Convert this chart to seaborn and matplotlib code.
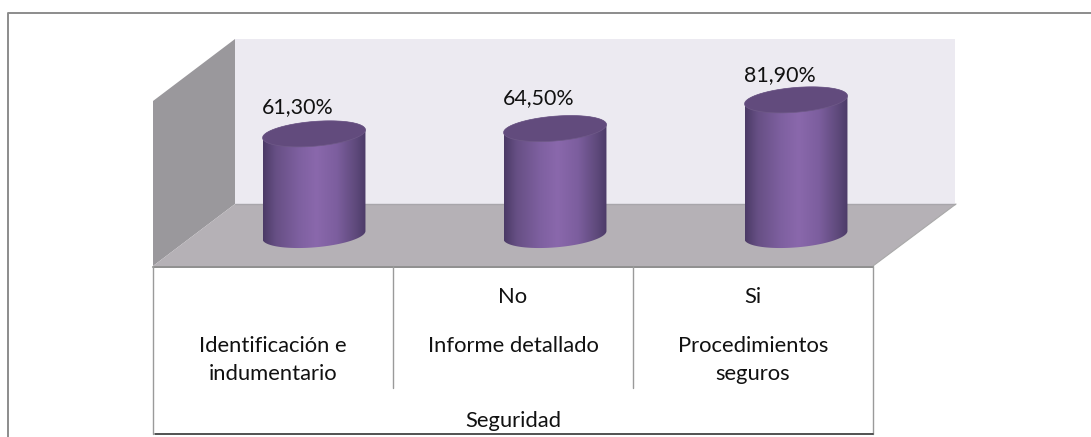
import numpy as np
import pandas as pd
import matplotlib
matplotlib.use("Agg")
import matplotlib.pyplot as plt
from matplotlib.patches import Polygon
from matplotlib.colors import LinearSegmentedColormap
import seaborn as sns

categories = ["Identificación e\nindumentario", "Informe detallado", "Procedimientos\nseguros"]
middle_labels = ["", "No", "Si"]
group_label = "Seguridad"
values = [61.30, 64.50, 81.90]
value_labels = ["61,30%", "64,50%", "81,90%"]

W, H = 1091, 437
sns.set_theme(style="white")
plt.rcParams['font.family'] = ['Lato', 'DejaVu Sans']
fig = plt.figure(figsize=(W / 100, H / 100), dpi=100, facecolor="white")

# Pixel-coordinate layer for the frame, the 3D box and the table under the chart
ov = fig.add_axes([0, 0, 1, 1], zorder=0)
ov.set_xlim(0, W); ov.set_ylim(H, 0); ov.axis("off")

border = "#8c8c8c"
ov.plot([8, 8, 1091], [437, 12.5, 12.5], color=border, lw=1.4, solid_capstyle="butt")
ov.add_patch(Polygon([(235, 39), (955, 39), (955, 204), (235, 204)], fc="#ecEAf1", ec="none"))
ov.add_patch(Polygon([(153, 101), (235, 39), (235, 204), (153, 266)], fc="#9a989c", ec="none"))
ov.add_patch(Polygon([(153, 266), (235, 204), (956, 204), (873, 266)], fc="#b5b1b6", ec="none"))
ov.plot([235, 955], [204, 204], color="#a8a6ab", lw=1)
ov.plot([153, 873], [266.5, 266.5], color="#8e8e8e", lw=1.4)
ov.plot([873, 956], [266, 204], color="#a9a9a9", lw=0.8)
for xl, yend in [(153, 434), (873, 434), (393, 388), (633, 388)]:
    ov.plot([xl, xl], [266, yend], color="#9a9a9a", lw=1)
ov.plot([155, 873], [433.5, 433.5], color="#222222", lw=1.1)

# Data axes: category positions and the value scale set where the bars stand
px_per_unit = 1.65
base_px = 235
left_px, right_px = 193.5, 916.5
top_val = 130
top_px = base_px - px_per_unit * top_val
ax = fig.add_axes([left_px / W, 1 - base_px / H, (right_px - left_px) / W, (base_px - top_px) / H], zorder=1)
ax.patch.set_alpha(0)
df = pd.DataFrame({"categoria": categories, "valor": values})
sns.barplot(data=df, x="categoria", y="valor", color="#7a5c9c", width=0.427, ax=ax)
ax.set_xlim(-0.5, 2.5); ax.set_ylim(0, top_val)
ax.axis("off")
fig.canvas.draw()

to_px = lambda x, y: (lambda p: (p[0], H - p[1]))(ax.transData.transform((x, y)))

cmap = LinearSegmentedColormap.from_list(
    "cyl",
    [(0.0, "#4b3a66"), (0.12, "#664f84"), (0.35, "#7e60a0"), (0.52, "#8a68ac"),
     (0.72, "#7c5e9e"), (0.9, "#5f4a7c"), (1.0, "#4c3b68")])
grad = np.linspace(0, 1, 256)[None, :]
b_ell, tilt = 12.4, 4.0
label_dy = [-27, -30, -25]

top_layer = fig.add_axes([0, 0, 1, 1], zorder=2)
top_layer.patch.set_alpha(0)
for bar, lab, dy in zip(ax.patches, value_labels, label_dy):
    xc = bar.get_x() + bar.get_width() / 2
    cx, base = to_px(xc, 0)
    _, top = to_px(xc, bar.get_height())
    x0, _ = to_px(bar.get_x(), 0)
    half_w = cx - x0
    bar.set_alpha(0)
    tb = np.linspace(np.pi, 0, 80)
    xb = cx + half_w * np.cos(tb)
    yb = base + b_ell * np.sin(tb) - tilt * np.cos(tb)
    tt = np.linspace(0, np.pi, 80)
    xt = cx + half_w * np.cos(tt)
    yt = top - b_ell * np.sin(tt) - tilt * np.cos(tt)
    body = Polygon(np.column_stack([np.r_[xb, xt], np.r_[yb, yt]]), closed=True,
                   fc="none", ec="none", transform=top_layer.transData)
    top_layer.add_patch(body)
    im = top_layer.imshow(grad, extent=[cx - half_w, cx + half_w, base + 30, top - 30],
                          cmap=cmap, aspect="auto", zorder=2)
    im.set_clip_path(body)
    t = np.linspace(0, 2 * np.pi, 160)
    top_layer.add_patch(Polygon(
        np.column_stack([cx + half_w * np.cos(t), top + b_ell * np.sin(t) - tilt * np.cos(t)]),
        closed=True, fc="#624b7d", ec="#6f5a88", lw=0.5, zorder=3))
    top_layer.text(cx - 16, top + dy, lab, ha="center", va="center", fontsize=15.4,
                   color="#111111", zorder=4)
top_layer.set_xlim(0, W); top_layer.set_ylim(H, 0); top_layer.axis("off")

txt = dict(ha="center", fontsize=15.8, color="#111111", linespacing=1.5)
for cx, cat, mid in zip([273, 513, 753], categories, middle_labels):
    ov.text(cx, 336, cat, va="top", **txt)
    if mid:
        ov.text(cx, 297, mid, va="center", **txt)
ov.text(513, 421, group_label, va="center", **txt)

fig.savefig("out.png", dpi=100)
